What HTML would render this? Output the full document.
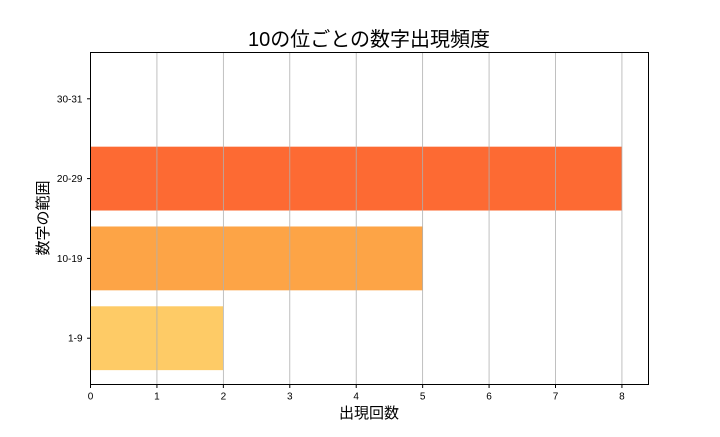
<!DOCTYPE html>
<html><head><meta charset="utf-8">
<style>
body{margin:0;background:#fff;}
svg text{font-family:"Liberation Sans","Noto Sans CJK JP",sans-serif;fill:#000;}
</style></head>
<body>
<svg width="720" height="432" viewBox="0 0 720 432">
<rect width="720" height="432" fill="#fff"/>
<text x="369" y="46" font-size="20" text-anchor="middle">10の位ごとの数字出現頻度</text>
<g id="bars"></g>
<g id="grid"></g>
<rect x="90.5" y="52.5" width="558" height="332" fill="none" stroke="#000" stroke-width="1"/>
<g id="xticks"></g>
<g id="yticks"></g>
<text x="369" y="418" font-size="15" text-anchor="middle">出現回数</text>
<text transform="translate(48,218) rotate(-90)" font-size="15" text-anchor="middle">数字の範囲</text>
</svg>
<script>
const categories = ["1-9","10-19","20-29","30-31"];
const values = [2,5,8,0];
const colors = ["#FECB66","#FDA446","#FD6A33","#E03020"];
const xTickLabels = [0,1,2,3,4,5,6,7,8];

const L=90.5,R=648.5,T=52.5,B=384.5;
const xMin=0,xMax=8.4,yMin=-0.58,yMax=3.58;
const xs=v=>L+(v-xMin)/(xMax-xMin)*(R-L);
const ys=v=>B-(v-yMin)/(yMax-yMin)*(B-T);
const NS="http://www.w3.org/2000/svg";
function mk(tag,attrs,parent){const e=document.createElementNS(NS,tag);for(const k in attrs)e.setAttribute(k,attrs[k]);document.getElementById(parent).appendChild(e);return e;}

const bh=(ys(0)-ys(1))*0.8;
categories.forEach((c,i)=>{
  if(values[i]>0){
    const r=mk("rect",{x:xs(0),y:ys(i)-bh/2,width:xs(values[i])-xs(0),height:bh,fill:colors[i]},"bars");
    
    
  }
  const t=mk("line",{x1:L-3.5,x2:L,y1:ys(i),y2:ys(i),stroke:"#000"},"yticks");
  
  
  const lb=mk("text",{x:L-8,y:ys(i)+3.5,"font-size":"10","text-anchor":"end"},"yticks");
  lb.textContent=c;
  
  
});
xTickLabels.forEach(v=>{
  const x=xs(v);
  if(v>0){
    const g=mk("line",{x1:x,x2:x,y1:T,y2:B,stroke:"#b0b0b0","stroke-width":"0.8"},"grid");
    
    
  }
  const t=mk("line",{x1:x,x2:x,y1:B,y2:B+3.5,stroke:"#000"},"xticks");
  
  
  const lb=mk("text",{x:x,y:B+15,"font-size":"10","text-anchor":"middle"},"xticks");
  lb.textContent=v;
  
  
});
</script>
</body></html>
